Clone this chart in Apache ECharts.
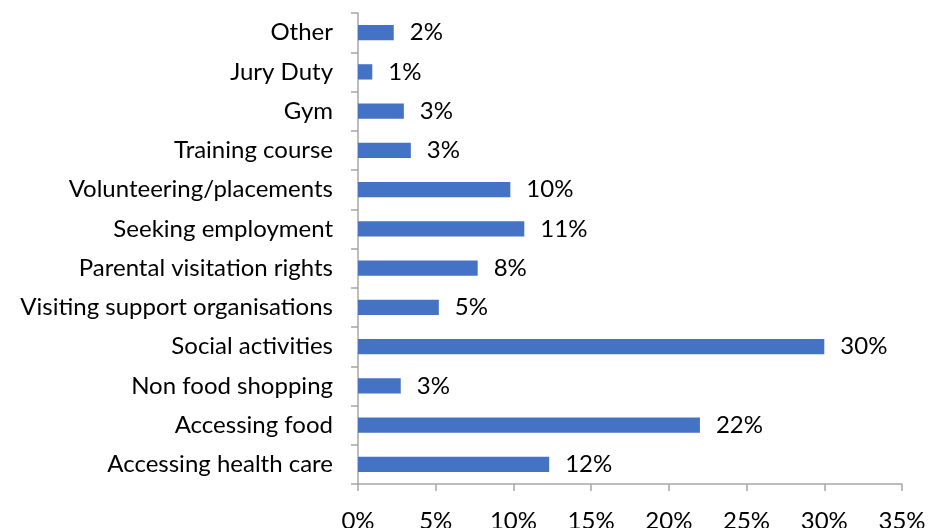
<!DOCTYPE html>
<html><head><meta charset="utf-8">
<script src="https://cdn.jsdelivr.net/npm/echarts@6/dist/echarts.min.js"></script>
<style>html,body{margin:0;padding:0;background:#fff}#c{width:928px;height:528px}</style>
</head><body><div id="c"></div>
<script>
const categories = ["Accessing health care","Accessing food","Non food shopping","Social activities","Visiting support organisations","Parental visitation rights","Seeking employment","Volunteering/placements","Training course","Gym","Jury Duty","Other"];
const values = [12.3, 22.0, 2.75, 30.0, 5.2, 7.7, 10.7, 9.8, 3.4, 2.95, 0.92, 2.3];
const xTicks = [0, 5, 10, 15, 20, 25, 30, 35];
const FONT = "Lato, 'Open Sans', sans-serif";
const chart = echarts.init(document.getElementById('c'));
chart.setOption({
  animation: false,
  grid: {left: 358, right: 26, top: 13, bottom: 44, containLabel: false, outerBoundsMode: 'none'},
  xAxis: {
    type: 'value', min: xTicks[0], max: xTicks[xTicks.length-1], interval: 5,
    axisLine: {show: true, lineStyle: {color: '#a6a6a6', width: 1.5}},
    axisTick: {show: true, length: 7, lineStyle: {color: '#a6a6a6', width: 1.5}},
    splitLine: {show: false},
    axisLabel: {formatter: v => v + '%', color: '#000', fontSize: 24, fontFamily: FONT, margin: 25}
  },
  yAxis: {
    type: 'category', data: categories,
    axisLine: {show: true, lineStyle: {color: '#a6a6a6', width: 1.5}},
    axisTick: {show: true, length: 7, lineStyle: {color: '#a6a6a6', width: 1.5}},
    axisLabel: {color: '#000', fontSize: 24, fontFamily: FONT, margin: 25}
  },
  series: [{
    type: 'bar', data: values, barCategoryGap: '61%',
    itemStyle: {color: '#4472C4'},
    label: {show: true, position: 'right', distance: 16, formatter: p => Math.round(p.value) + '%', color: '#000', fontSize: 24, fontFamily: FONT}
  }]
});
</script></body></html>
